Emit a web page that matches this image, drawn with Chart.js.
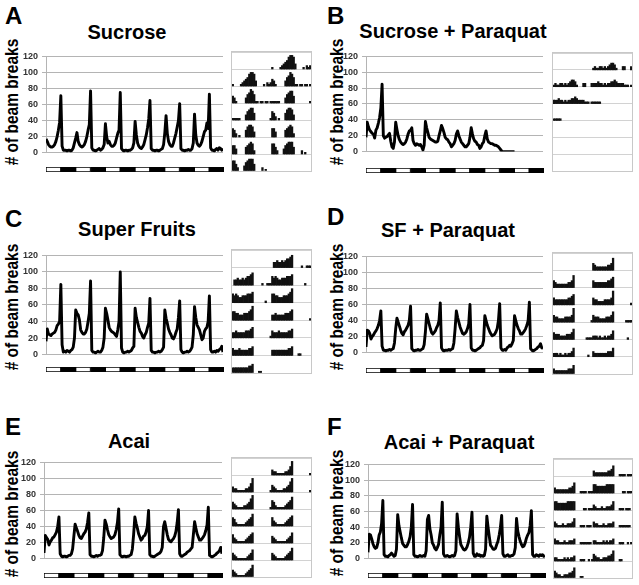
<!DOCTYPE html>
<html>
<head>
<meta charset="utf-8">
<script src="https://cdn.jsdelivr.net/npm/chart.js@4.4.1/dist/chart.umd.min.js"></script>
<style>
  body { margin:0; background:#fff; }
  #fig { position:relative; width:639px; height:585px; overflow:hidden; font-family:"Liberation Sans", Arial, sans-serif; color:#000; }
  .abs { position:absolute; }
  .letter { font-weight:bold; font-size:24px; line-height:24px; }
  .title { font-weight:bold; font-size:20px; line-height:20px; width:300px; text-align:center; white-space:nowrap; }
  .ylab { font-weight:bold; font-size:15.5px; line-height:16px; width:170px; height:16px; text-align:center; white-space:nowrap; transform:rotate(-90deg) scale(1,1.2); }
  .box { border:1px solid #c8c8c8; box-sizing:border-box; }
</style>
</head>
<body>
<div id="fig"></div>
<script>
// ---- data: hourly activity (# of beam breaks), 12 values per 12h light/dark phase ----
var lineA = [
  17,14,10,8,7,7,8,10,14,20,28,38,
  71,8,3,3,3,2,3,3,2,3,6,12,
  18,25,14,10,8,7,8,10,14,20,28,35,
  77,6,3,3,2,3,4,5,3,4,6,10,
  36,20,12,14,10,8,8,9,12,18,24,28,
  75,5,3,2,3,3,2,3,3,4,6,12,
  39,22,12,8,6,5,7,10,16,22,31,42,
  65,5,3,3,2,3,3,2,3,4,5,10,
  25,46,24,14,10,8,8,12,18,24,32,40,
  61,5,3,3,2,3,3,4,3,3,5,12,
  48,22,12,9,8,10,14,20,26,28,37,30,
  73,6,3,3,2,4,5,3,6,5,3,5
];
var lineB = [
  18,37,31,27,25,23,22,17,27,30,36,43,
  55,85,20,17,18,19,21,23,13,6,4,12,
  37,28,20,15,12,10,9,10,12,16,22,26,
  27,30,14,10,8,10,9,8,9,6,2,8,
  38,30,24,18,16,15,14,13,12,12,13,20,
  26,33,29,24,18,16,15,12,10,6,8,10,
  14,22,26,20,16,12,10,8,6,6,8,10,
  18,30,22,16,13,12,9,8,4,6,10,12,
  20,26,16,12,11,10,10,9,8,8,7,6,
  4,2,0,0,0,0,0,0,0,0,0,0,
  0
];
var lineC = [
  16,31,25,24,23,25,26,27,30,35,37,40,
  85,12,3,4,3,5,4,3,5,6,9,20,
  54,50,48,42,30,27,25,25,27,31,40,50,
  89,5,3,3,2,3,4,3,3,5,9,20,
  56,50,42,33,30,28,27,26,24,22,30,40,
  100,8,3,2,3,3,4,3,4,5,8,10,
  56,45,39,33,28,26,22,20,24,27,33,38,
  68,5,3,3,2,3,3,4,3,4,6,9,
  54,44,38,31,27,24,20,19,22,27,31,45,
  65,6,3,2,3,3,4,3,4,6,9,24,
  58,45,36,33,30,24,18,20,28,31,33,40,
  71,6,3,3,4,3,5,4,6,7,10,3
];
var lineD = [
  7,28,27,24,17,20,22,25,27,30,34,40,
  52,8,3,3,2,3,3,4,3,4,5,12,
  30,43,38,33,28,24,22,26,28,31,34,40,
  58,5,3,2,3,3,4,3,3,4,5,10,
  26,48,42,36,30,25,23,25,27,31,34,40,
  62,6,3,2,3,3,3,4,3,4,5,12,
  30,52,44,38,32,28,24,23,24,26,30,36,
  60,6,3,3,2,3,4,5,6,8,9,15,
  46,40,34,30,26,23,21,22,23,26,30,40,
  61,6,3,3,4,3,6,7,9,8,11,15,
  46,40,34,30,27,23,23,25,27,30,34,40,
  63,5,3,2,3,4,5,7,8,11,6,5
];
var lineE = [
  7,29,26,24,17,21,23,26,27,30,33,40,
  52,6,3,2,3,3,2,3,4,4,6,12,
  28,43,38,34,29,26,25,28,31,33,37,45,
  57,5,3,3,2,3,4,3,4,4,5,10,
  26,48,43,36,30,27,25,26,27,30,36,45,
  62,5,3,2,3,3,2,3,3,4,5,12,
  30,52,44,38,31,27,23,25,28,29,33,40,
  60,5,3,3,2,3,4,5,6,7,9,14,
  40,46,38,30,24,22,21,23,25,28,34,45,
  61,6,3,3,4,5,6,8,9,10,12,14,
  30,46,38,31,27,23,23,25,27,30,35,42,
  64,4,3,2,3,4,5,7,8,10,14,6
];
var lineF = [
  8,31,30,25,19,15,13,14,20,30,34,45,
  74,5,3,3,2,4,5,7,5,3,4,12,
  56,42,34,26,19,17,15,15,18,22,28,40,
  69,5,3,3,2,3,4,3,3,4,3,10,
  50,55,38,30,20,17,13,11,14,18,30,40,
  72,6,3,3,4,3,2,3,4,3,4,10,
  57,40,28,18,15,12,11,12,15,20,27,40,
  59,7,3,3,6,4,5,3,4,3,4,12,
  54,40,28,17,15,12,12,13,18,22,30,40,
  55,6,3,3,4,5,3,3,4,4,6,14,
  51,35,28,22,18,15,16,20,26,30,33,42,
  61,5,3,3,5,4,3,5,4,5,3,4
];

// light/dark schedule under each plot (12h phases)
var ldPhases = ['L','D','L','D','L','D','L','D','L','D','L','D'];
var yTicks = [0,20,40,60,80,100,120];

// ---- actograms: one fly, 6 days x 24 hourly bins (0-10 = part of row height) ----
var actA = [
  [1,0,0,0,0,1,2,3,4,5,7,8,8,7,3,0,0,0,0,1,0,2,1,2],
  [4,3,1,0,0,0,0,0,3,5,6,8,7,5,1,1,0,1,1,0,1,1,0,1],
  [1,1,1,1,1,0,0,0,3,5,6,7,7,4,0,0,0,0,0,0,0,0,0,1],
  [5,4,2,0,1,0,0,0,4,6,7,7,6,3,0,0,0,0,0,0,0,0,0,0],
  [5,5,3,0,0,0,0,0,4,5,6,7,6,2,0,0,0,0,0,0,0,0,0,0],
  [6,6,4,2,0,0,0,3,5,6,7,7,7,4,0,0,0,0,2,0,1,0,0,0]
];
var actB = [
  [1,2,1,1,2,2,1,2,1,2,3,4,4,3,1,0,0,0,2,2,0,0,0,2],
  [2,2,2,3,2,2,1,2,1,2,2,3,3,4,3,2,2,2,2,1,1,1,0,1],
  [1,1,1,1,1,0,0,0,0,0,0,0,0,0,0,0,0,0,0,0,0,0,0,0],
  [0,0,0,0,0,0,0,0,0,0,0,0,0,0,0,0,0,0,0,0,0,0,0,0],
  [0,0,0,0,0,0,0,0,0,0,0,0,0,0,0,0,0,0,0,0,0,0,0,0],
  [0,0,0,0,0,0,0,0,0,0,0,0,0,0,0,0,0,0,0,0,0,0,0,0]
];
var actC = [
  [0,3,3,4,3,3,4,3,4,5,5,6,7,0,0,0,0,0,1,0,0,1,1,1],
  [5,4,5,4,3,3,4,4,4,5,5,5,6,0,0,0,0,0,0,0,1,0,0,0],
  [5,5,4,4,3,3,3,4,4,4,5,6,8,0,0,0,0,0,0,0,0,0,0,0],
  [3,3,4,3,3,3,3,3,4,4,4,5,6,0,0,0,0,0,0,0,0,0,0,1],
  [4,3,3,3,4,3,3,3,3,3,4,4,5,0,0,0,0,0,0,0,0,0,0,0],
  [3,3,3,3,3,3,3,3,3,3,4,4,5,0,0,0,1,1,0,0,0,0,0,0]
];
var actD = [
  [4,3,2,2,2,2,2,2,2,3,3,4,7,0,0,0,0,0,0,0,0,0,0,0],
  [4,3,3,3,3,3,3,3,3,4,4,5,6,0,0,0,0,0,0,0,0,0,0,0],
  [4,3,3,2,2,2,2,3,3,3,3,4,8,0,0,0,0,0,0,0,0,0,0,1],
  [4,3,3,3,2,2,2,2,3,3,3,4,6,0,0,0,0,0,0,0,1,1,1,1],
  [2,2,2,1,2,1,1,2,1,2,2,3,5,0,0,0,0,0,0,0,0,1,0,0],
  [3,2,2,2,2,2,2,2,2,3,3,3,5,0,0,0,0,0,0,0,0,0,0,0]
];
var actE = [
  [3,2,2,1,1,1,1,1,2,2,3,5,8,0,0,0,0,0,0,0,0,0,0,1],
  [4,3,2,1,1,1,1,2,2,3,4,6,8,0,0,0,0,0,0,0,0,0,0,1],
  [5,4,2,1,1,1,1,1,2,3,4,5,7,0,0,0,0,0,0,0,0,0,0,0],
  [5,3,2,1,1,1,1,1,2,3,4,5,6,0,0,0,0,0,0,0,0,0,0,0],
  [4,3,2,1,1,1,1,1,1,2,3,4,6,0,0,0,0,0,0,0,0,0,0,0],
  [4,3,2,1,1,1,1,1,2,3,4,5,7,0,0,0,0,0,0,0,0,0,0,0]
];
var actF = [
  [3,2,2,2,2,2,2,2,2,3,3,4,6,0,0,0,1,1,1,1,0,1,1,1],
  [5,5,4,4,4,4,4,4,5,5,5,5,5,0,0,0,0,0,1,1,0,1,1,1],
  [3,2,1,1,1,2,1,1,2,2,2,3,5,0,0,0,1,1,1,0,1,1,1,0],
  [3,2,2,1,1,1,2,1,1,2,2,2,3,0,0,0,1,1,1,1,1,1,1,0],
  [2,2,1,1,1,1,2,1,2,1,2,2,3,0,0,0,1,1,1,0,0,1,0,1],
  [4,3,2,2,1,1,2,2,2,3,3,4,6,0,0,0,1,1,0,0,0,0,0,0]
];

// ---- layout of the six panels (page pixels) ----
var panels = [
  { id:'A', title:'Sucrose',          line:lineA, act:actA, lx:5,   ly:7,   tx:127, ty:25,  yx:12,  yy:102, left:46,  right:223, top:53,  bottom:156, ld:167, box:[231,51,81,121] },
  { id:'B', title:'Sucrose + Paraquat', line:lineB, act:actB, lx:327, ly:7,   tx:453, ty:24,  yx:337, yy:102, left:366, right:543, top:53,  bottom:155, ld:168, box:[552,52,81,120] },
  { id:'C', title:'Super Fruits',     line:lineC, act:actC, lx:5,   ly:210, tx:137, ty:222, yx:12,  yy:307, left:46,  right:223, top:252, bottom:358, ld:367, box:[231,249,81,125] },
  { id:'D', title:'SF + Paraquat',    line:lineD, act:actD, lx:327, ly:208, tx:448, ty:223, yx:337, yy:307, left:366, right:543, top:253, bottom:356, ld:368, box:[552,252,81,123] },
  { id:'E', title:'Acai',             line:lineE, act:actE, lx:5,   ly:418, tx:129, ty:434, yx:12,  yy:514, left:44,  right:222, top:459, bottom:562, ld:573, box:[231,457,81,121] },
  { id:'F', title:'Acai + Paraquat',  line:lineF, act:actF, lx:327, ly:418, tx:459, ty:435, yx:337, yy:513, left:368, right:545, top:461, bottom:562, ld:573, box:[553,458,80,121] }
];

var hours = [];
for (var i = 0; i < 144; i++) hours.push(i);

var fig = document.getElementById('fig');
var FONT = '"Liberation Sans", Arial, sans-serif';

function makeCanvas(x, y, w, h) {
  var c = document.createElement('canvas');
  w = Math.round(w); h = Math.round(h);
  c.width = w; c.height = h;
  c.style.cssText = 'position:absolute;left:' + x + 'px;top:' + y + 'px;width:' + w + 'px;height:' + h + 'px';
  fig.appendChild(c);
  return c;
}

function addText(cls, txt, x, y) {
  var d = document.createElement('div');
  d.className = 'abs ' + cls;
  d.textContent = txt;
  d.style.left = x + 'px';
  d.style.top = y + 'px';
  fig.appendChild(d);
}

function drawLine(p) {
  var padL = 36;
  var w = p.right - p.left + padL + 2;
  var h = p.bottom - p.top + 12;
  var cv = makeCanvas(p.left - padL, p.top - 6, w, h);
  new Chart(cv.getContext('2d'), {
    type: 'line',
    data: {
      labels: hours,
      datasets: [{
        data: p.line,
        borderColor: '#000',
        borderWidth: 2.9,
        borderJoinStyle: 'round',
        pointRadius: 0,
        tension: 0,
        fill: false
      }]
    },
    options: {
      responsive: false,
      animation: false,
      layout: { padding: { top: 6, bottom: 6, left: 0, right: 2 } },
      plugins: { legend: { display: false }, tooltip: { enabled: false } },
      scales: {
        x: { type: 'linear', min: 0, max: 143, display: false },
        y: {
          min: 0, max: 120,
          afterFit: function (s) { s.width = padL; },
          afterBuildTicks: function (s) { s.ticks = yTicks.map(function (v) { return { value: v }; }); },
          ticks: { font: { family: FONT, size: 9, weight: 'bold' }, color: '#333', padding: 4 },
          grid: { color: '#b4b4b4', tickLength: 4, lineWidth: 1 },
          border: { color: '#b4b4b4' }
        }
      }
    }
  });
}

function drawLD(p) {
  var w = (p.right - p.left) * 144 / 143 + 2;
  var cv = makeCanvas(p.left - 1, p.ld - 1, w, 7);
  var segs = ldPhases.map(function (ph, i) { return { x: [i * 12, i * 12 + 12], y: 'LD' }; });
  new Chart(cv.getContext('2d'), {
    type: 'bar',
    data: {
      labels: ['LD'],
      datasets: [{
        data: segs,
        backgroundColor: ldPhases.map(function (ph) { return ph === 'L' ? '#fff' : '#000'; }),
        borderColor: '#000',
        borderWidth: 1,
        borderSkipped: false,
        barPercentage: 1,
        categoryPercentage: 1
      }]
    },
    options: {
      indexAxis: 'y',
      responsive: false,
      animation: false,
      layout: { padding: { left: 1, right: 1, top: 1, bottom: 1 } },
      plugins: { legend: { display: false }, tooltip: { enabled: false } },
      scales: {
        x: { type: 'linear', min: 0, max: 144, display: false },
        y: { type: 'category', display: false }
      }
    }
  });
}

// double-plotted actogram: row r shows day r-1 | day r
function actBars(days) {
  var out = [];
  for (var r = 0; r < 7; r++) {
    var base = 6 - r;
    [r - 1, r].forEach(function (d, half) {
      if (d < 0 || d >= days.length) return;
      days[d].forEach(function (v, h) {
        if (v > 0) out.push({ x: half * 24 + h + 0.5, y: [base, base + v / 10] });
      });
    });
  }
  return out;
}

function drawAct(p) {
  var b = p.box;
  var frame = document.createElement('div');
  frame.className = 'abs box';
  frame.style.cssText += 'left:' + b[0] + 'px;top:' + b[1] + 'px;width:' + b[2] + 'px;height:' + b[3] + 'px';
  fig.appendChild(frame);
  var cv = makeCanvas(b[0] + 1, b[1] + 1, b[2] - 2, b[3] - 2);
  new Chart(cv.getContext('2d'), {
    type: 'bar',
    data: {
      datasets: [{
        data: actBars(p.act),
        backgroundColor: '#111',
        borderWidth: 0,
        barPercentage: 1,
        categoryPercentage: 1
      }]
    },
    options: {
      responsive: false,
      animation: false,
      layout: { padding: 0 },
      plugins: { legend: { display: false }, tooltip: { enabled: false } },
      scales: {
        x: { type: 'linear', min: 0, max: 48, offset: false, display: false, grid: { offset: false } },
        y: {
          type: 'linear', min: 0, max: 7,
          afterFit: function (s) { s.width = 0; },
          ticks: { display: false, stepSize: 1 },
          grid: { color: '#d2d2d2', drawTicks: false },
          border: { display: false }
        }
      }
    }
  });
}

panels.forEach(function (p) {
  addText('letter', p.id, p.lx, p.ly - 3);
  addText('title', p.title, p.tx - 150, p.ty - 3);
  addText('ylab', '# of beam breaks', p.yx - 85, p.yy - 8);
  drawLine(p);
  drawLD(p);
  drawAct(p);
});
</script>
</body>
</html>
